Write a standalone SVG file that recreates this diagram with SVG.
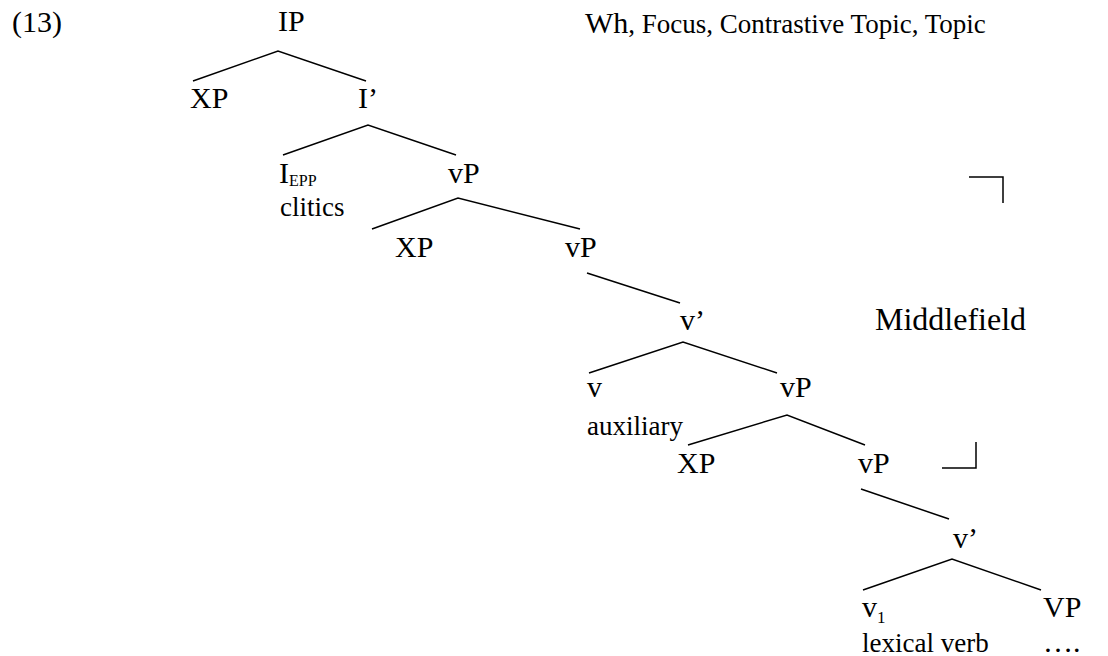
<svg xmlns="http://www.w3.org/2000/svg" width="1108" height="656" viewBox="0 0 1108 656">
<style>
text{font-family:"Liberation Serif","Times New Roman",serif;fill:#000}
.n{font-size:30px}
.s{font-size:27px}
.sub{font-size:16px}
.e{stroke:#000;stroke-width:1.5;fill:none}
</style>
<rect width="1108" height="656" fill="#fff"/>
<text class="n" x="12" y="32">(13)</text>
<g id="labels">
<text class="n" x="585" y="33">Wh<tspan class="s">, Focus, Contrastive Topic, Topic</tspan></text>
<text class="n" x="875" y="330" style="font-size:32px">Middlefield</text>
<path class="e" d="M969,177 H1003 V203"/>
<path class="e" d="M942,468 H976 V442"/>
</g>
<g id="connectors">
<path class="e" d="M193,81 L278,51 L366,81"/>
<path class="e" d="M283,155 L368,125 L456,155"/>
<path class="e" d="M372,229 L458,198 L580,229"/>
<path class="e" d="M587,273 L680,303"/>
<path class="e" d="M589,373 L683,342 L777,373"/>
<path class="e" d="M688,445 L787,415 L865,445"/>
<path class="e" d="M861,489 L949,519"/>
<path class="e" d="M863,590 L952,559 L1041,590"/>
</g>
<g id="n-IP"><text class="n" x="278" y="31">IP</text></g>
<g id="n-XP1"><text class="n" x="190" y="108">XP</text></g>
<g id="n-Ibar"><text class="n" x="358" y="108">I’</text></g>
<g id="n-I"><text class="n" x="279" y="183">I<tspan class="sub" dy="3">EPP</tspan></text><text class="s" x="280" y="216">clitics</text></g>
<g id="n-vP1"><text class="n" x="448" y="183">vP</text></g>
<g id="n-XP2"><text class="n" x="395" y="257">XP</text></g>
<g id="n-vP2"><text class="n" x="565" y="257">vP</text></g>
<g id="n-vbar1"><text class="n" x="680" y="330">v’</text></g>
<g id="n-v"><text class="n" x="587" y="397">v</text><text class="s" x="587" y="435">auxiliary</text></g>
<g id="n-vP3"><text class="n" x="780" y="397">vP</text></g>
<g id="n-XP3"><text class="n" x="677" y="473">XP</text></g>
<g id="n-vP4"><text class="n" x="858" y="473">vP</text></g>
<g id="n-vbar2"><text class="n" x="953" y="548">v’</text></g>
<g id="n-v1"><text class="n" x="862" y="617">v<tspan class="sub" style="font-size:17px" dy="6">1</tspan></text><text class="s" x="862" y="652">lexical verb</text></g>
<g id="n-VP"><text class="n" x="1043" y="617">VP</text><text class="n" x="1043" y="652">….</text></g>
</svg>
